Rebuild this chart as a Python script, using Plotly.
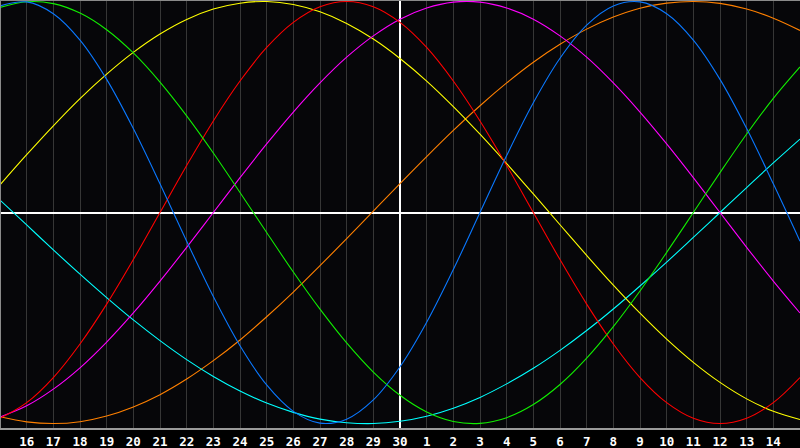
import plotly.graph_objects as go

# Day offsets relative to the centre day (the "30" line)
days = list(range(-15, 16))
tick_vals = list(range(-14, 15))
tick_text = ["16", "17", "18", "19", "20", "21", "22", "23", "24", "25", "26", "27", "28", "29", "30",
             "1", "2", "3", "4", "5", "6", "7", "8", "9", "10", "11", "12", "13", "14"]

# Curve values (percent), one per day
blue = [97.9, 99.8, 94.2, 81.7, 63.1, 39.8, 13.6, -13.6, -39.8, -63.1, -81.7, -94.2, -99.8, -97.9, -88.8,
        -73.1, -52.0, -27.0, 0.0, 27.0, 52.0, 73.1, 88.8, 97.9, 99.8, 94.2, 81.7, 63.1, 39.8, 13.6, -13.6]
red = [-97.5, -90.1, -78.2, -62.3, -43.4, -22.3, 0.0, 22.3, 43.4, 62.3, 78.2, 90.1, 97.5, 100.0, 97.5,
       90.1, 78.2, 62.3, 43.4, 22.3, 0.0, -22.3, -43.4, -62.3, -78.2, -90.1, -97.5, -100.0, -97.5, -90.1, -78.2]
green = [97.2, 99.9, 99.0, 94.5, 86.6, 75.6, 61.8, 45.8, 28.2, 9.5, -9.5, -28.2, -45.8, -61.8, -75.6,
         -86.6, -94.5, -99.0, -99.9, -97.2, -91.0, -81.5, -69.0, -54.1, -37.2, -18.9, 0.0, 18.9, 37.2, 54.1, 69.0]
magenta = [-96.9, -91.6, -83.7, -73.6, -61.4, -47.6, -32.5, -16.5, 0.0, 16.5, 32.5, 47.6, 61.4, 73.6, 83.7,
           91.6, 96.9, 99.7, 99.7, 96.9, 91.6, 83.7, 73.6, 61.4, 47.6, 32.5, 16.5, 0.0, -16.5, -32.5, -47.6]
yellow = [13.1, 27.4, 41.1, 54.0, 65.6, 75.9, 84.6, 91.5, 96.4, 99.2, 100.0, 98.6, 95.1, 89.6, 82.2,
          73.0, 62.3, 50.2, 37.1, 23.2, 8.8, -5.8, -20.3, -34.4, -47.7, -60.0, -71.0, -80.5, -88.3, -94.2, -98.1]
orange = [-96.8, -99.2, -100.0, -99.1, -96.4, -92.1, -86.3, -78.9, -70.2, -60.4, -49.4, -37.7, -25.2, -12.4, 0.7,
          13.7, 26.5, 38.9, 50.6, 61.4, 71.2, 79.7, 86.9, 92.6, 96.8, 99.2, 100.0, 99.1, 96.4, 92.1, 86.3]
cyan = [5.9, -5.9, -17.7, -29.2, -40.3, -50.9, -60.7, -69.7, -77.7, -84.6, -90.3, -94.7, -97.9, -99.6, -100.0,
        -98.9, -96.5, -92.7, -87.6, -81.2, -73.8, -65.3, -55.9, -45.7, -34.8, -23.5, -11.8, 0.0, 11.8, 23.5, 34.8]

series = [
    ("orange", orange, "#FF8000"),
    ("cyan", cyan, "#00FFFF"),
    ("yellow", yellow, "#FFFF00"),
    ("magenta", magenta, "#FF00FF"),
    ("red", red, "#FF0000"),
    ("green", green, "#11EE00"),
    ("blue", blue, "#0A78FF"),
]

fig = go.Figure()
for name, vals, col in series:
    fig.add_trace(go.Scatter(
        x=days, y=vals, mode="lines", name=name,
        line=dict(color=col, width=1.1, shape="spline", smoothing=1.0),
        hoverinfo="skip", showlegend=False,
    ))

fig.update_layout(
    width=800, height=448,
    margin=dict(l=0, r=0, t=0, b=20),
    paper_bgcolor="#000000",
    plot_bgcolor="#060609",
    showlegend=False,
    xaxis=dict(
        range=[-15, 15], fixedrange=True,
        tickmode="array", tickvals=tick_vals, ticktext=tick_text,
        showgrid=True, gridcolor="#363636", gridwidth=1,
        zeroline=True, zerolinecolor="#FFFFFF", zerolinewidth=1.5,
        showline=True, linecolor="#9a9a9a", linewidth=2,
        ticks="", ticklabelstandoff=1,
        tickfont=dict(family="DejaVu Sans Mono", size=12.5, color="#FFFFFF", weight="bold"),
    ),
    yaxis=dict(
        range=[-102.1, 100.7], fixedrange=True,
        showgrid=False, showticklabels=False, ticks="",
        zeroline=True, zerolinecolor="#FFFFFF", zerolinewidth=1.5,
        showline=False,
    ),
    shapes=[
        dict(type="line", xref="paper", yref="paper", x0=0, x1=0, y0=0, y1=1,
             line=dict(color="#8a8a8a", width=2), layer="above"),
        dict(type="line", xref="paper", yref="paper", x0=0, x1=1, y0=1, y1=1,
             line=dict(color="#8a8a8a", width=2), layer="above"),
    ],
)

fig.write_html(
    "out.html",
    config={"displayModeBar": False},
    post_script="document.body.style.margin='0';document.body.style.background='#000';",
)
